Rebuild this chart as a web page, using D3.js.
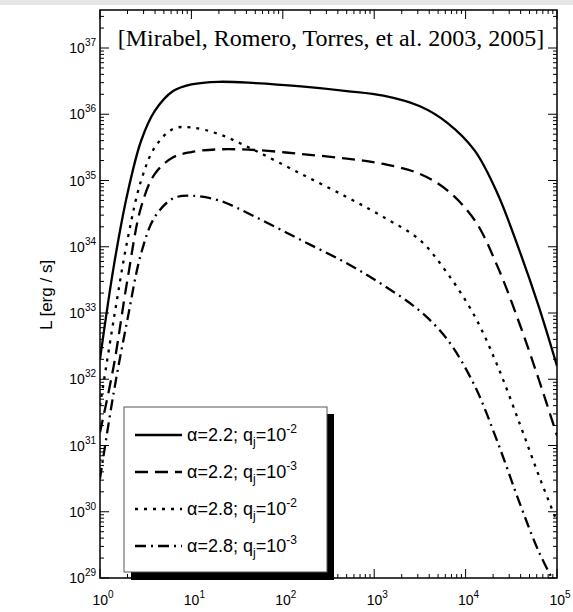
<!DOCTYPE html>
<html><head><meta charset="utf-8">
<script src="https://cdn.jsdelivr.net/npm/d3@7"></script>
<style>body{margin:0;background:#fff}text{font-family:"Liberation Sans",Arial,sans-serif}</style>
</head><body>
<svg id="c" width="573" height="612"></svg>
<script>
// log10(x), log10(L) pairs
const logX    = [0,0.15,0.3,0.45,0.6,0.8,1.0,1.3,1.7,2.2,2.7,3.1,3.5,3.8,4.1,4.35,4.6,4.8,5];
const solid   = [32.3,33.7,34.8,35.6,36.05,36.35,36.45,36.49,36.47,36.42,36.35,36.28,36.12,35.87,35.45,34.8,33.9,33.1,32.2];
const dashed  = [31.2,32.2,33.5,34.6,35.1,35.35,35.43,35.47,35.46,35.4,35.33,35.25,35.1,34.85,34.4,33.7,32.8,32.0,31.15];
const dotted  = [31.6,32.9,34.1,35.0,35.5,35.78,35.8,35.7,35.45,35.1,34.75,34.45,34.1,33.6,32.95,32.2,31.3,30.55,29.85];
const dashdot = [30.5,31.8,32.9,33.9,34.45,34.73,34.77,34.7,34.45,34.1,33.75,33.42,33.03,32.6,31.9,31.05,30.1,29.4,28.85];
const labels = ["α=2.2; q","α=2.2; q","α=2.8; q","α=2.8; q"];
const qexp = ["-2","-3","-2","-3"];
const dashes = [null,"13,7","3,6","11,5,2,5"];
const xDecades = [0,1,2,3,4,5];
const yDecades = [29,30,31,32,33,34,35,36,37];

const svg = d3.select("#c");
svg.append("rect").attr("width",573).attr("height",5).attr("fill","#e6e6e6");
const L=100,R=557,T=10,B=578;
const x = d3.scaleLinear().domain([0,5]).range([L,R]);
const y = d3.scaleLinear().domain([29,37+(48-10)/66.25]).range([B,T]);

svg.append("defs").append("clipPath").attr("id","cp").append("rect")
  .attr("x",L).attr("y",T).attr("width",R-L).attr("height",B-T);

const line = d3.line().x(d=>x(d[0])).y(d=>y(d[1])).curve(d3.curveCatmullRom.alpha(0.5));
[solid,dashed,dotted,dashdot].forEach((s,i)=>{
  svg.append("path").attr("clip-path","url(#cp)")
    .attr("d",line(logX.map((v,j)=>[v,s[j]])))
    .attr("fill","none").attr("stroke","#000").attr("stroke-width",2.3)
    .attr("stroke-dasharray",dashes[i]);
});

svg.append("rect").attr("x",L).attr("y",T).attr("width",R-L).attr("height",B-T)
  .attr("fill","none").attr("stroke","#000").attr("stroke-width",1.5);

const tk = svg.append("g").attr("stroke","#000").attr("stroke-width",1);
xDecades.forEach(d=>{
  [[B,-1],[T,1]].forEach(([yy,s])=>tk.append("line").attr("x1",x(d)).attr("x2",x(d)).attr("y1",yy).attr("y2",yy+s*9));
  if(d<5) for(let k=2;k<10;k++){const xv=x(d+Math.log10(k));
    [[B,-1],[T,1]].forEach(([yy,s])=>tk.append("line").attr("x1",xv).attr("x2",xv).attr("y1",yy).attr("y2",yy+s*4));}
});
yDecades.forEach(d=>{
  [[L,1],[R,-1]].forEach(([xx,s])=>tk.append("line").attr("y1",y(d)).attr("y2",y(d)).attr("x1",xx).attr("x2",xx+s*9));
  for(let k=2;k<10;k++){const v=d+Math.log10(k); if(v>y.domain()[1]) break; const yv=y(v);
    [[L,1],[R,-1]].forEach(([xx,s])=>tk.append("line").attr("y1",yv).attr("y2",yv).attr("x1",xx).attr("x2",xx+s*4));}
});

xDecades.forEach(d=>{
  const t=svg.append("text").attr("x",x(d)+3).attr("y",B+27).attr("text-anchor","middle").attr("font-size",14);
  t.append("tspan").text("10");
  t.append("tspan").attr("dy",-7).attr("font-size",10).text(d);
});
yDecades.forEach(d=>{
  const t=svg.append("text").attr("x",L-4).attr("y",y(d)+5).attr("text-anchor","end").attr("font-size",14);
  t.append("tspan").text("10");
  t.append("tspan").attr("dy",-7).attr("font-size",10).text(d);
});

svg.append("text").attr("transform","translate(52,295) rotate(-90)").attr("text-anchor","middle")
  .attr("font-size",17).text("L [erg / s]");

svg.append("text").attr("x",331).attr("y",46).attr("text-anchor","middle")
  .style("font-family","'Liberation Serif','Times New Roman',serif").attr("font-size",24)
  .text("[Mirabel, Romero, Torres,  et al. 2003, 2005]");

const lg = svg.append("g");
lg.append("rect").attr("x",131).attr("y",414).attr("width",203).attr("height",166).attr("fill","#000");
lg.append("rect").attr("x",124).attr("y",407).attr("width",203).attr("height",165).attr("fill","#fff").attr("stroke","#555").attr("stroke-width",1);
labels.forEach((lab,i)=>{
  const yy=435+i*37;
  lg.append("line").attr("x1",135).attr("x2",182).attr("y1",yy).attr("y2",yy)
    .attr("stroke","#000").attr("stroke-width",2.3).attr("stroke-dasharray",dashes[i]);
  const t=lg.append("text").attr("x",187).attr("y",yy+6).attr("font-size",18);
  t.append("tspan").text(lab);
  t.append("tspan").attr("dy",5).attr("font-size",12).text("j");
  t.append("tspan").attr("dy",-5).attr("font-size",18).text("=10");
  t.append("tspan").attr("dy",-8).attr("font-size",12).text(qexp[i]);
});
</script>
</body></html>
